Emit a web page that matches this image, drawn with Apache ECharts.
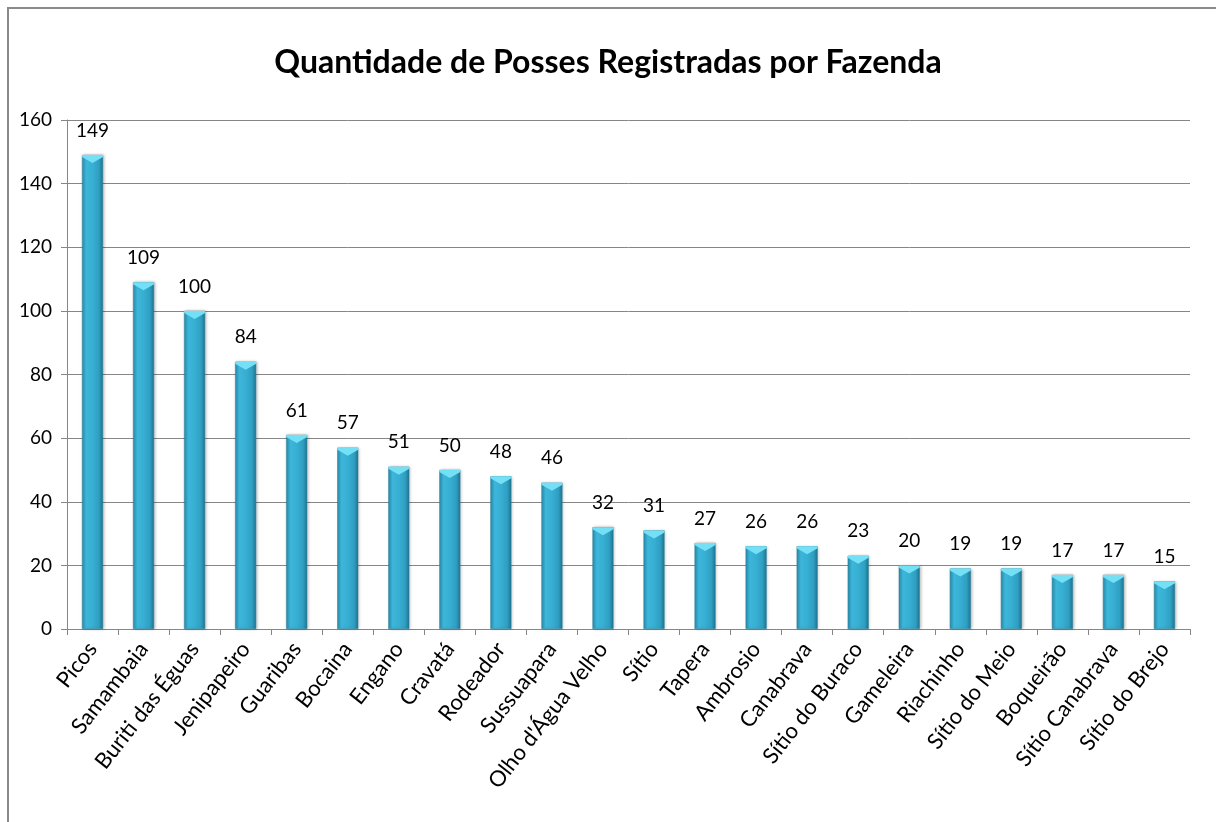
<!DOCTYPE html>
<html>
<head>
<meta charset="utf-8">
<script src="https://cdn.jsdelivr.net/npm/echarts@6/dist/echarts.min.js"></script>
<style>
  html, body { margin: 0; padding: 0; background: #fff; }
  #chart { width: 1216px; height: 822px; position: relative; }
  #frame { position: absolute; left: 7px; top: 7px; width: 1300px; height: 900px;
           border-left: 2px solid #8a8a8a; border-top: 2px solid #8a8a8a; pointer-events: none; }
</style>
</head>
<body>
<div id="chart"></div>
<div id="frame"></div>
<script>
const titleText = "Quantidade de Posses Registradas por Fazenda";
const fazendas = ["Picos", "Samambaia", "Buriti das Éguas", "Jenipapeiro", "Guaribas", "Bocaina",
  "Engano", "Cravatá", "Rodeador", "Sussuapara", "Olho d'Água Velho", "Sítio", "Tapera",
  "Ambrosio", "Canabrava", "Sítio do Buraco", "Gameleira", "Riachinho", "Sítio do Meio",
  "Boqueirão", "Sítio Canabrava", "Sítio do Brejo"];
const posses = [149, 109, 100, 84, 61, 57, 51, 50, 48, 46, 32, 31, 27, 26, 26, 23, 20, 19, 19, 17, 17, 15];

const font = "Lato, 'Open Sans', sans-serif";
const chart = echarts.init(document.getElementById("chart"));

chart.setOption({
  animation: false,
  title: {
    text: titleText,
    left: "center",
    top: 42,
    textStyle: { fontFamily: font, fontWeight: "bold", fontSize: 32, color: "#000" }
  },
  grid: { left: 67, right: 26, top: 120, bottom: 193 },
  xAxis: {
    type: "category",
    data: fazendas,
    axisLine: { lineStyle: { color: "#868686", width: 1 } },
    axisTick: { show: true, length: 6, lineStyle: { color: "#868686" } },
    axisLabel: {
      rotate: 52, interval: 0, margin: 16,
      fontFamily: font, fontSize: 22, color: "#000"
    }
  },
  yAxis: {
    type: "value",
    min: 0, max: 160, interval: 20,
    axisLine: { show: true, lineStyle: { color: "#868686", width: 1 } },
    axisTick: { show: true, length: 6, lineStyle: { color: "#868686" } },
    axisLabel: { fontFamily: font, fontSize: 19, color: "#000", margin: 15 },
    splitLine: { lineStyle: { color: "#868686", width: 1 } }
  },
  series: [{
    type: "bar",
    data: posses,
    barWidth: 21,
    itemStyle: {
      color: new echarts.graphic.LinearGradient(0, 0, 1, 0, [
        { offset: 0, color: "#2a8eae" },
        { offset: 0.2, color: "#3cb6da" },
        { offset: 0.5, color: "#37afd3" },
        { offset: 0.8, color: "#2f9fc2" },
        { offset: 1, color: "#1f7590" }
      ]),
      borderColor: "#2a7f99",
      borderWidth: 0.5,
      shadowColor: "rgba(0,0,0,0.25)",
      shadowBlur: 3,
      shadowOffsetX: 1
    },
    label: {
      show: true, position: "top", distance: 15,
      fontFamily: font, fontSize: 19, color: "#000"
    }
  }, {
    // light chevron cap at the top of each bar
    type: "pictorialBar",
    data: posses,
    symbol: "path://M0,0 L10,0 L10,2 L5,8 L0,2 Z",
    symbolSize: [21, 8],
    symbolPosition: "end",
    itemStyle: { color: "#74e0f6" },
    silent: true,
    z: 3
  }]
});
</script>
</body>
</html>
